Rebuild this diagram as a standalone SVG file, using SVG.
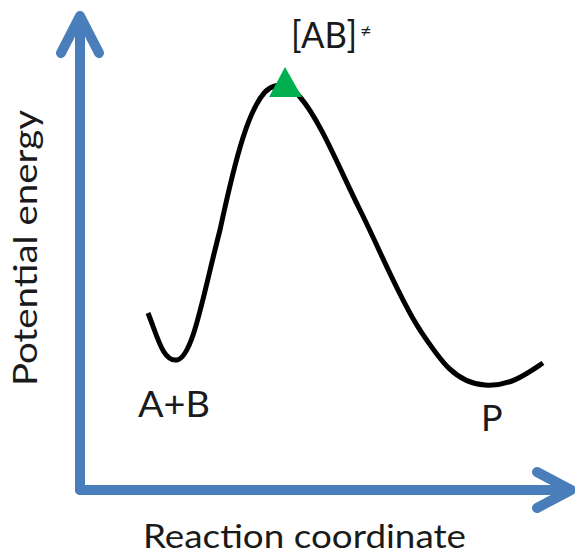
<svg xmlns="http://www.w3.org/2000/svg" width="575" height="554" viewBox="0 0 575 554">
<style>
.axis{fill:none;stroke:#4a7ebb;stroke-width:10;stroke-linecap:round;stroke-linejoin:round}
.curve{fill:none;stroke:#000;stroke-width:5;stroke-linecap:butt}
text{font-family:Lato,"Open Sans","Liberation Sans",sans-serif;fill:#1a1a1a}
</style>
<rect width="575" height="554" fill="#fff"/>
<g id="connectors">
<path class="axis" d="M80,490 L80,16 M61,53 L80,16 L99,53"/>
<path class="axis" d="M80,490 L571,490 M537,472 L571,490 L537,508"/>
<path class="curve" d="M148,313 C158,338 163,362 177,360 C193,357 203,295 220,230 C235,160 250,100 270,88 C285,80 292,88 300,97 C320,120 340,170 360,210 C380,250 400,300 420,330 C440,360 455,383 485,385 C510,387 528,373 543,363"/>
</g>
<g id="ts"><polygon points="285,67 269,97 302,97" fill="#00b050"/></g>
<g id="lbl-ts"><text x="291" y="48" font-size="36" textLength="66" lengthAdjust="spacingAndGlyphs">[AB]</text><text x="360" y="38" font-size="20">≠</text></g>
<g id="lbl-ab"><text x="138" y="417" font-size="37" textLength="72" lengthAdjust="spacingAndGlyphs">A+B</text></g>
<g id="lbl-p"><text x="481" y="431" font-size="36">P</text></g>
<g id="lbl-x"><text x="143" y="548" font-size="32" textLength="323" lengthAdjust="spacingAndGlyphs">Reaction coordinate</text></g>
<g id="lbl-y"><text transform="translate(37,386) rotate(-90)" font-size="32" textLength="276" lengthAdjust="spacingAndGlyphs">Potential energy</text></g>
</svg>
